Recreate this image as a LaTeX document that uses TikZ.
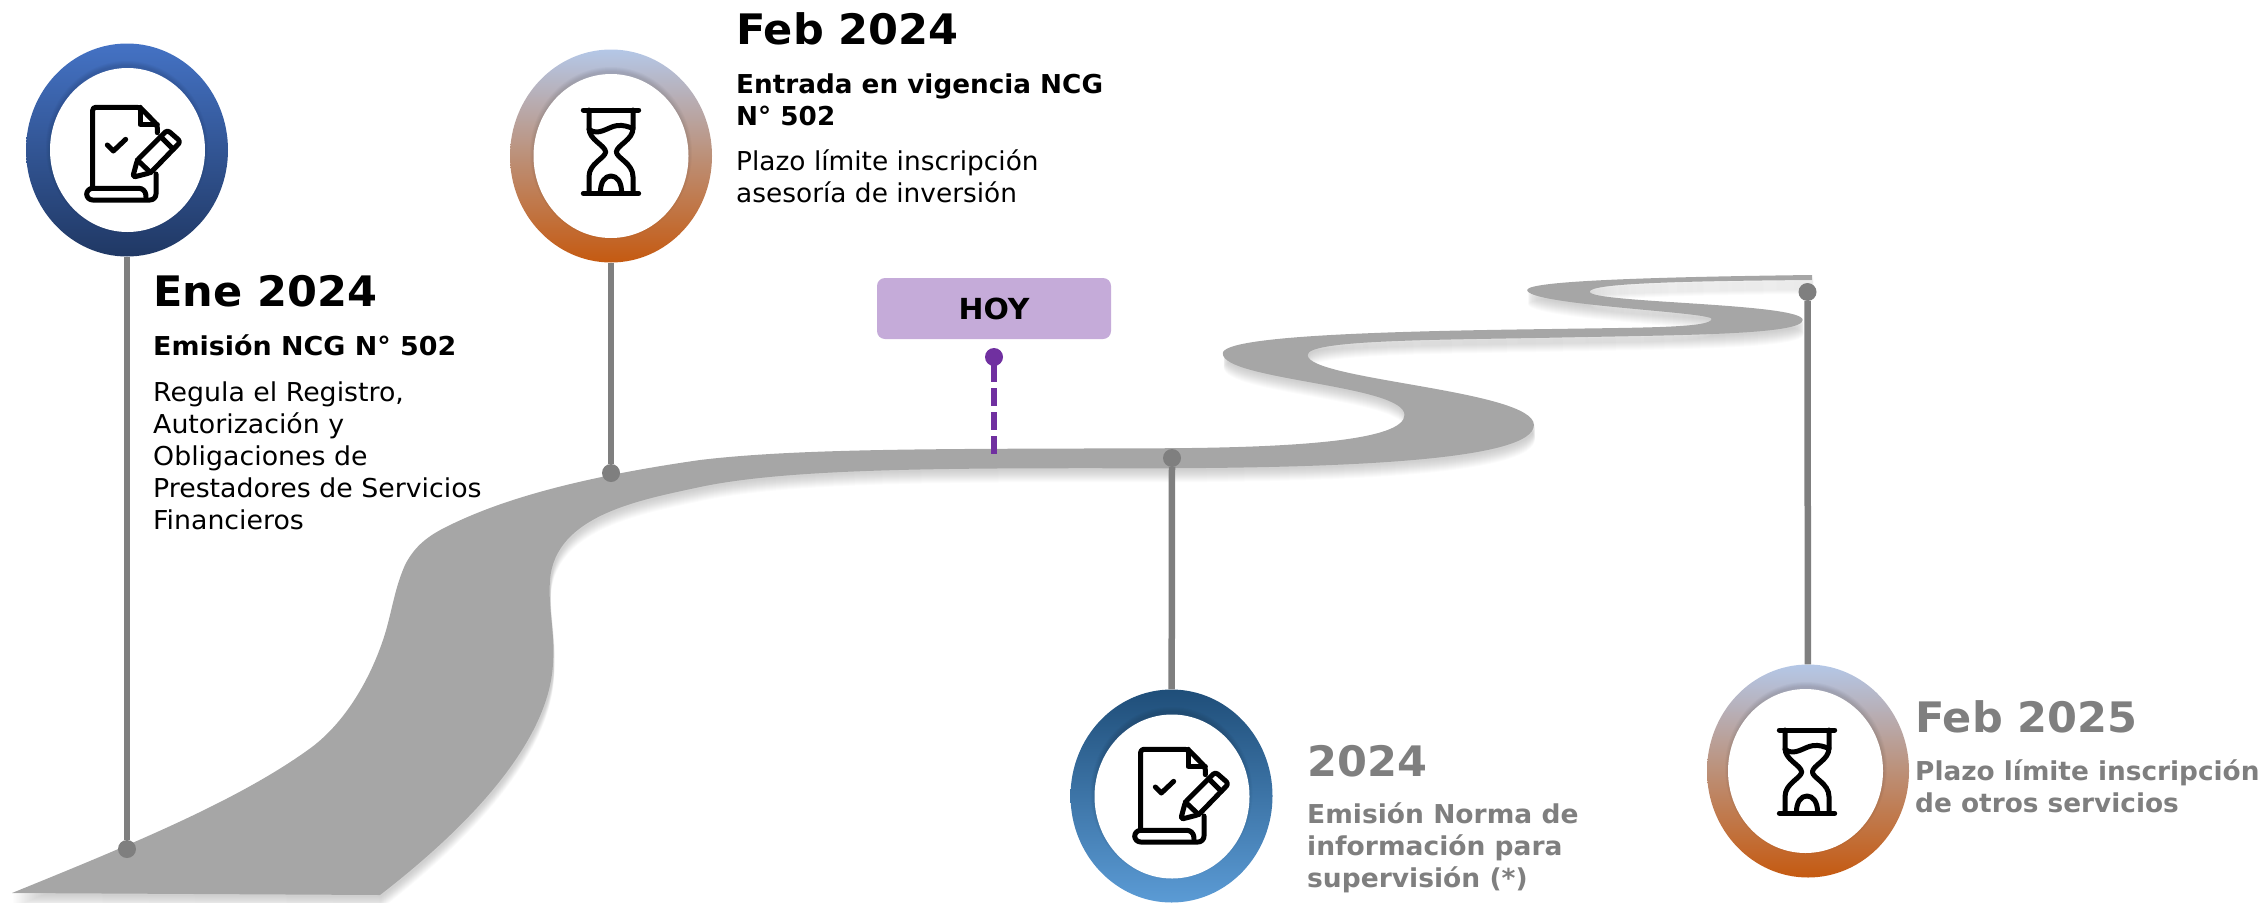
\documentclass[tikz,border=0pt]{standalone}
\usepackage{fontspec}
\setmainfont{DejaVu Sans}
\usetikzlibrary{shapes.geometric}
\definecolor{roadgray}{HTML}{A6A6A6}
\definecolor{stemgray}{HTML}{7F7F7F}
\definecolor{hoyfill}{HTML}{C5ABD9}
\definecolor{hoypurple}{HTML}{7030A0}
\definecolor{blueA}{HTML}{4472C4}
\definecolor{blueB}{HTML}{203864}
\definecolor{blueC}{HTML}{1F4E79}
\definecolor{blueD}{HTML}{5B9BD5}
\definecolor{sandA}{HTML}{B4C7E7}
\definecolor{sandB}{HTML}{BC9078}
\definecolor{sandC}{HTML}{C55A11}
\newcommand{\roadpath}{
  (12,893) .. controls (130,845) and (240,800) .. (312,747)
  .. controls (345,722) and (370,680) .. (384,637)
  .. controls (392,612) and (394,590) .. (405,565)
  .. controls (415,545) and (430,535) .. (446,527)
  .. controls (490,505) and (560,480) .. (700,460)
  .. controls (800,448) and (950,449) .. (1150,448.3)
  .. controls (1300,448) and (1404,440) .. (1404.5,415)
  .. controls (1405,385) and (1222,380) .. (1222.8,353.3)
  .. controls (1223,335) and (1400,331) .. (1551.8,329)
  .. controls (1640,327.5) and (1711,328) .. (1711.6,319)
  .. controls (1712,312) and (1527,305) .. (1527.2,290)
  .. controls (1527,281) and (1650,277) .. (1812,275)
  -- (1812,280)
  .. controls (1690,281) and (1590,283) .. (1589.7,291.7)
  .. controls (1589.5,303) and (1803,303) .. (1802.7,320)
  .. controls (1802.5,335) and (1680,335) .. (1551.8,337.7)
  .. controls (1430,340) and (1307.5,340) .. (1307.6,355)
  .. controls (1307.7,380) and (1534,390) .. (1533.9,425)
  .. controls (1534,460) and (1350,468) .. (1150,468.3)
  .. controls (950,468) and (790,468) .. (700,487)
  .. controls (640,500) and (555,515) .. (550,580)
  .. controls (548,610) and (555,630) .. (553,663)
  .. controls (550,730) and (490,810) .. (380,895)
  -- cycle}
\tikzset{
  ringA/.style={ellipse,inner sep=0pt,minimum width=202pt,minimum height=213pt,top color=blueA,bottom color=blueB,draw=none},
  ringB/.style={ellipse,inner sep=0pt,minimum width=202pt,minimum height=213pt,top color=sandA,bottom color=sandC,middle color=sandB,draw=none},
  ringC/.style={ellipse,inner sep=0pt,minimum width=202pt,minimum height=213pt,top color=blueC,bottom color=blueD,draw=none},
  hole/.style={ellipse,inner sep=0pt,minimum width=155pt,minimum height=164pt,fill=white,draw=none},
  stem/.style={draw=stemgray,line width=6.5pt},
  stemdot/.style={circle,fill=stemgray,inner sep=0pt,minimum size=18pt},
  hoydot/.style={circle,fill=hoypurple,inner sep=0pt,minimum size=18pt},
  hoydash/.style={draw=hoypurple,line width=6pt,dash pattern=on 18pt off 6pt,dash phase=17pt},
  hoybox/.style={rectangle,rounded corners=8pt,fill=hoyfill,minimum width=234pt,minimum height=61pt,inner sep=0pt,font=\fontsize{29}{32}\selectfont\bfseries\addfontfeature{FakeStretch=1.03}},
  headblack/.style={anchor=base west,inner sep=0pt,font=\fontsize{42}{48}\selectfont\bfseries\addfontfeature{FakeStretch=1.025}},
  headgray/.style={headblack,text=stemgray},
  subtxt/.style={anchor=base west,inner sep=0pt,align=left,font=\fontsize{26}{32}\selectfont\bfseries\addfontfeature{FakeStretch=#1}},
  bodytxt/.style={anchor=base west,inner sep=0pt,align=left,font=\fontsize{26}{32}\selectfont\addfontfeature{FakeStretch=#1}},
  iconline/.style={draw=black,line width=5pt,line cap=round,line join=round},
  pics/docicon/.style={code={
    \draw[iconline] (98,325) -- (98,90) [rounded corners=3pt] -- (98,82) -- (240,82) -- (292,135) -- (292,158);
    \draw[iconline] (240,82) -- (240,133) -- (292,133);
    \draw[iconline] (142,195) -- ++(18,18) -- ++(37,-35);
    \draw[iconline,rounded corners=6pt] (288,282) -- (288,360) -- (80,360) -- (80,325) -- (255,325) -- (258,350);
    \draw[iconline,rounded corners=3pt] (218,292) -- (232,240) -- (322,150) -- (362,185) -- (272,278) -- cycle;
    \draw[iconline] (302,170) -- (340,208);
    \draw[iconline] (232,240) -- (272,278);
  }},
  pics/sandicon/.style={code={
    \draw[iconline] (130,90) -- (296,90);
    \draw[iconline] (130,340) -- (296,340);
    \draw[iconline] (147,90) -- (147,145) .. controls (147,180) and (195,195) .. (197,216) .. controls (195,235) and (147,250) .. (147,290) -- (147,340);
    \draw[iconline] (279,90) -- (279,145) .. controls (279,180) and (231,195) .. (229,216) .. controls (231,235) and (279,250) .. (279,290) -- (279,340);
    \draw[iconline] (147,148) .. controls (175,170) and (205,140) .. (230,137) .. controls (250,134) and (265,140) .. (279,146);
    \draw[iconline] (181,340) .. controls (181,305) and (195,288) .. (213,288) .. controls (231,288) and (245,305) .. (245,340);
  }}
}
\newcommand{\ringhalo}[2]{%
  \foreach \k in {1,...,5}{\fill[black,opacity=.022] (#1,#2-3) ellipse [x radius=76pt+\k pt,y radius=81pt+\k pt];}}
\begin{document}
\begin{tikzpicture}[x=1pt,y=-1pt]
\useasboundingbox (0,0) rectangle (2266,902);
% road shadow and road
\foreach \k in {2,3,...,14}{\fill[black,opacity=.014,shift={(1,\k)}] \roadpath;}
\fill[roadgray] \roadpath;
% markers on the road
\node[stemdot] (d1) at (127,849) {};
\node[stemdot] (d2) at (611,473) {};
\node[stemdot] (d3) at (1172,458) {};
\node[stemdot] (d4) at (1807.5,292) {};
% rings
\node[ringA] (r1) at (127,150) {};
\ringhalo{127}{150}
\node[hole] (h1) at (127.5,150) {};
\node[ringB] (r2) at (611,156) {};
\ringhalo{611}{156}
\node[hole] (h2) at (611,156) {};
\node[ringC] (r3) at (1171.5,796) {};
\ringhalo{1171.5}{796}
\node[hole] (h3) at (1172,796.5) {};
\node[ringB] (r4) at (1808,771) {};
\ringhalo{1806}{771}
\node[hole] (h4) at (1805.5,771) {};
% connectors
\draw[stem] (r1) -- (d1);
\draw[stem] (r2) -- (d2);
\draw[stem] (r3) -- (d3);
\draw[stem] (r4) -- (d4);
% icons
\pic[scale=1/3] at (60,80) {docicon};
\pic[scale=1/3] at (540,80) {sandicon};
\pic[scale=1/3] at (1108,722) {docicon};
\pic[scale=1/3] at (1736,700) {sandicon};
% HOY
\node[hoybox] (hoy) at (994,308.5) {HOY};
\coordinate (hoyend) at (994,454);
\draw[hoydash] (994,357) -- (hoyend);
\node[hoydot] (hoyd) at (994,357) {};
% texts
\node[headblack] (t1) at (153,306) {Ene 2024};
\node[subtxt=1.035] (s1) at (153,355) {Emisión NCG N° 502};
\node[bodytxt=1.03] (b1) at (153,529) {Regula el Registro,\\Autorización y\\Obligaciones de\\Prestadores de Servicios\\Financieros};
\node[headblack] (t2) at (736,44) {Feb 2024};
\node[subtxt=1.01] (s2) at (736,125) {Entrada en vigencia NCG\\N° 502};
\node[bodytxt=1.015] (b2) at (736,202) {Plazo límite inscripción\\asesoría de inversión};
\node[headgray] (t3) at (1307,776) {2024};
\node[subtxt=1.02,text=stemgray] (s3) at (1307,887) {Emisión Norma de\\información para\\supervisión (*)};
\node[headgray] (t4) at (1915,732) {Feb 2025};
\node[subtxt=1.013,text=stemgray] (s4) at (1915,812) {Plazo límite inscripción\\de otros servicios};
\end{tikzpicture}
\end{document}
